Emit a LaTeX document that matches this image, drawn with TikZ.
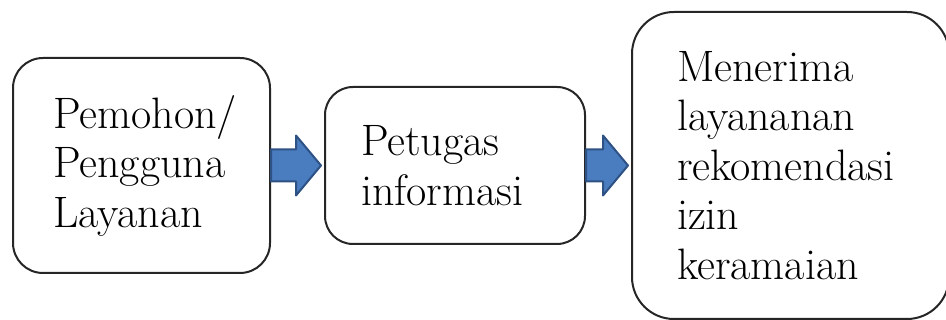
\documentclass[tikz,border=0pt]{standalone}
\usetikzlibrary{positioning,calc}
\definecolor{arrowblue}{RGB}{74,124,192}
\definecolor{arrowedge}{RGB}{46,82,132}

\begin{document}
\begin{tikzpicture}[x=1pt, y=1pt, node distance=53pt,
	box/.style={draw=black!85, line width=2pt, fill=white, inner sep=0pt,
		align=left, font=\rmfamily\fontsize{44}{49.5}\selectfont},
	flow/.style={draw=arrowedge, fill=arrowblue, line width=2pt, line join=round,
		to path={let \p1=(\tikztostart.east), \p2=(\tikztotarget.west) in
			(\x1,\y1+16) -- (\x2-28,\y1+16) -- (\x2-28,\y1+30) -- (\x2-3,\y1)
			-- (\x2-28,\y1-30) -- (\x2-28,\y1-16) -- (\x1,\y1-16) -- cycle}}]
	\useasboundingbox (0,0) rectangle (946,320);

	\node 	(pemohon) 	[box, minimum width=257pt, minimum height=215pt, rounded corners=30pt, text width=177pt]
			at (141.5,154.5)		{Pemohon/\\Pengguna\\Layanan};
	\node 	(petugas) 	[box, minimum width=260pt, minimum height=157pt, rounded corners=28pt, text width=188pt,
			right=of pemohon]		{Petugas\\informasi};
	\node	(menerima)	[box, minimum width=317pt, minimum height=307pt, rounded corners=42pt, text width=227pt,
			right=45pt of petugas]	{Menerima\\layananan\\rekomendasi\\izin\\keramaian};

	\draw [flow] (pemohon) to (petugas);
	\draw [flow] (petugas) to (menerima);

\end{tikzpicture}
\end{document}
